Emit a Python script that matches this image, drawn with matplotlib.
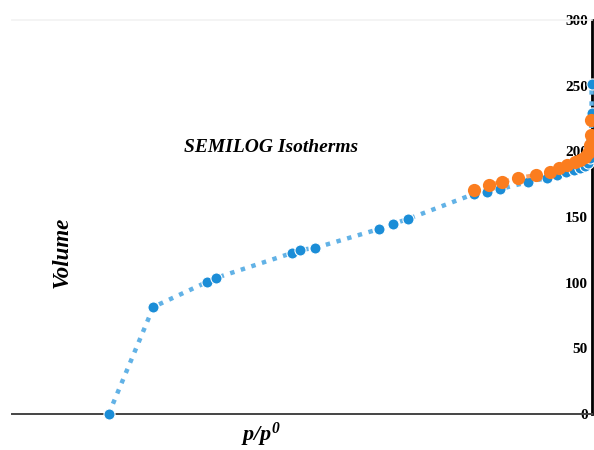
import numpy as np
import matplotlib
matplotlib.use('Agg')
import matplotlib.pyplot as plt
from matplotlib.ticker import NullLocator

# adsorption branch (blue) - p/p0 and volume
ads_p = [1.0e-5, 2.9e-5, 1.04e-4, 1.29e-4, 7.9e-4, 9.5e-4, 1.36e-3,
         6.3e-3, 8.7e-3, 1.25e-2, 0.060, 0.082, 0.112, 0.218, 0.342,
         0.434, 0.538, 0.651, 0.751, 0.847, 0.910, 0.953, 0.976, 0.99, 0.99]
ads_v = [0, 81.5, 100.5, 103.6, 122.6, 124.9, 126.4,
         140.9, 144.7, 148.5, 167.5, 169.0, 171.3, 176.6, 179.7,
         182.0, 184.3, 185.8, 187.3, 188.8, 191.1, 194.9, 208.6, 229.2, 251.3]

# desorption branch (orange)
des_p = [0.060, 0.085, 0.117, 0.170, 0.265, 0.372, 0.452, 0.553,
         0.664, 0.751, 0.847, 0.910, 0.953, 0.976, 0.985]
des_v = [170.6, 174.4, 176.6, 179.7, 182.0, 184.3, 187.3, 189.6,
         191.9, 193.4, 195.7, 198.7, 204.8, 212.4, 223.9]

yticks = [0, 50, 100, 150, 200, 250, 300]

serif = 'Liberation Serif'
plt.rcParams['mathtext.fontset'] = 'custom'
plt.rcParams['mathtext.rm'] = serif + ':italic:bold'
plt.rcParams['mathtext.it'] = serif + ':italic:bold'
plt.rcParams['mathtext.bf'] = serif + ':bold:italic'

fig = plt.figure(figsize=(5.94, 4.5), dpi=100)
ax = fig.add_axes([12 / 594, 1 - 414 / 450, 580 / 594, 394 / 450])

ax.plot(ads_p, ads_v, color='#62b2e6', lw=3.2, dashes=(1, 1.5),
        marker='o', ms=8, mfc='#1b8dd7', mec='white', mew=0.8,
        clip_on=False, zorder=3)
ax.plot(des_p, des_v, color='#fba466', lw=3, dashes=(1, 1.6),
        marker='o', ms=9.5, mfc='#fb7d1f', mec='#fb7d1f', mew=0,
        clip_on=False, zorder=4)

ax.set_xscale('log')
ax.set_xlim(1e-6, 1.0)
ax.set_ylim(0, 300)
ax.xaxis.set_major_locator(NullLocator())
ax.xaxis.set_minor_locator(NullLocator())

ax.spines['left'].set_visible(False)
ax.spines['top'].set_color('#f2f2f2')
ax.spines['top'].set_linewidth(1.2)
ax.spines['bottom'].set_color('#444444')
ax.spines['bottom'].set_linewidth(1.4)
ax.spines['right'].set_color('black')
ax.spines['right'].set_linewidth(2)

ax.yaxis.tick_right()
ax.set_yticks(yticks)
ax.tick_params(axis='y', length=0, pad=-3, labelsize=11)
for t in ax.yaxis.get_major_ticks():
    t.label2.set_horizontalalignment('right')
    t.label2.set_fontfamily(serif)
    t.label2.set_fontweight('bold')

fig.text(271 / 594, 1 - 147 / 450, 'SEMILOG Isotherms', family=serif,
         weight='bold', style='italic', fontsize=14, ha='center', va='center')
fig.text(62 / 594, 1 - 252 / 450, 'Volume', family=serif, weight='bold',
         style='italic', fontsize=16.5, rotation=90, ha='center', va='center')
fig.text(261 / 594, 1 - 435 / 450, r'$p/p^0$', fontsize=16,
         ha='center', va='center')

fig.savefig('out.png', dpi=100)
